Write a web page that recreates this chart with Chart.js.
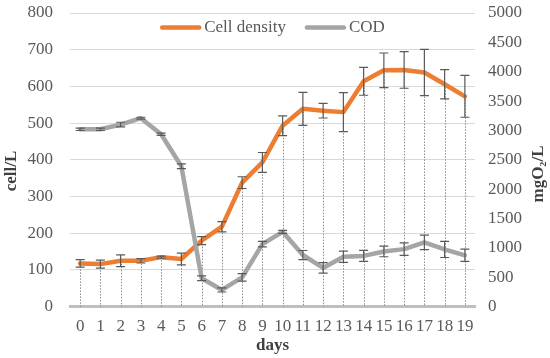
<!DOCTYPE html>
<html><head><meta charset="utf-8">
<script src="https://cdn.jsdelivr.net/npm/chart.js@4/dist/chart.umd.min.js"></script>
<style>html,body{margin:0;padding:0;background:#fff}#wrap{width:550px;height:358px;position:relative}</style>
</head><body><div id="wrap"><canvas id="c"></canvas></div>
<script>
const days = ['0','1','2','3','4','5','6','7','8','9','10','11','12','13','14','15','16','17','18','19'];
const cellDensity = [118,116,125,125,135,130,180,218,338,393,493,539,534,530,614,644,645,638,606,573];
const cellErr = [10,11,16,6,3,16,11,14,16,27,27,45,20,53,38,47,50,63,40,57];
const cod = [3020,3020,3100,3210,2935,2390,485,285,500,1065,1275,880,660,850,865,940,980,1095,975,875];
const codErr = [20,20,40,15,20,40,40,35,63,48,25,77,90,95,95,90,105,125,137,105];
const leftAxis = {min:0, max:800, step:100, title:'cell/L'};
const rightAxis = {min:0, max:5000, step:500, title:'mgO\u2082/L'};
const xTitle = 'days';
const ORANGE = '#ED7D31', GRAY = '#A5A5A5';
const FONT = 'Liberation Serif';

const extras = {
  id: 'extras',
  beforeDatasetsDraw(chart) {
    const ctx = chart.ctx, area = chart.chartArea;
    const meta = chart.getDatasetMeta(0);
    ctx.save();
    ctx.strokeStyle = '#8c8c8c';
    ctx.lineWidth = 1;
    ctx.setLineDash([1.5, 1.5]);
    meta.data.forEach(p => {
      const x = Math.round(p.x) + 0.5;
      ctx.beginPath(); ctx.moveTo(x, p.y); ctx.lineTo(x, area.bottom); ctx.stroke();
    });
    ctx.restore();
  },
  afterDatasetsDraw(chart) {
    const ctx = chart.ctx;
    ctx.save();
    ctx.strokeStyle = '#595959';
    ctx.lineWidth = 1.2;
    chart.data.datasets.forEach((ds, i) => {
      const meta = chart.getDatasetMeta(i);
      const sc = chart.scales[ds.yAxisID];
      meta.data.forEach((p, j) => {
        const v = ds.data[j], e = ds.errors[j];
        const y1 = sc.getPixelForValue(v + e), y2 = sc.getPixelForValue(v - e);
        const x = p.x;
        ctx.beginPath();
        ctx.moveTo(x, y1); ctx.lineTo(x, y2);
        ctx.moveTo(x - 4.5, y1); ctx.lineTo(x + 4.5, y1);
        ctx.moveTo(x - 4.5, y2); ctx.lineTo(x + 4.5, y2);
        ctx.stroke();
      });
    });
    ctx.restore();
  },
  afterDraw(chart) {
    const ctx = chart.ctx, area = chart.chartArea;
    ctx.save();
    // legend
    ctx.font = '17px "' + FONT + '"';
    ctx.textBaseline = 'middle';
    ctx.fillStyle = '#595959';
    const items = chart.data.datasets.map(d => ({label: d.label, color: d.borderColor}));
    const lineW = 41, gap = 3, sep = 19;
    let total = 0;
    items.forEach((it, k) => { it.w = ctx.measureText(it.label).width; total += lineW + gap + it.w + (k ? sep : 0); });
    let x = (area.left + area.right) / 2 - total / 2;
    const ly = area.top + 14.5;
    items.forEach((it, k) => {
      if (k) x += sep;
      ctx.strokeStyle = it.color; ctx.lineWidth = 4.5; ctx.lineCap = 'round';
      ctx.beginPath(); ctx.moveTo(x + 2, ly); ctx.lineTo(x + lineW - 2, ly); ctx.stroke();
      x += lineW + gap;
      ctx.textAlign = 'left';
      ctx.fillText(it.label, x, ly);
      x += it.w;
    });
    // axis titles
    ctx.fillStyle = '#404040';
    ctx.font = 'bold 17px "' + FONT + '"';
    ctx.textAlign = 'center';
    ctx.textBaseline = 'middle';
    ctx.fillText(xTitle, (area.left + area.right) / 2, 346);
    ctx.save(); ctx.translate(12, 171); ctx.rotate(-Math.PI / 2); ctx.fillText(leftAxis.title, 0, 0); ctx.restore();
    ctx.save(); ctx.translate(539, 174); ctx.rotate(-Math.PI / 2); ctx.fillText(rightAxis.title, 0, 0); ctx.restore();
    ctx.restore();
  }
};

const tickFont = {family: FONT, size: 17};
const plain = v => String(v);
new Chart(document.getElementById('c'), {
  type: 'line',
  data: {
    labels: days,
    datasets: [
      {label: 'Cell density', data: cellDensity, errors: cellErr, yAxisID: 'y', borderColor: ORANGE, backgroundColor: ORANGE,
       borderWidth: 4.5, pointRadius: 0, tension: 0, borderJoinStyle: 'round', borderCapStyle: 'round', order: 1},
      {label: 'COD', data: cod, errors: codErr, yAxisID: 'y2', borderColor: GRAY, backgroundColor: GRAY,
       borderWidth: 4.5, pointRadius: 0, tension: 0, borderJoinStyle: 'round', borderCapStyle: 'round', order: 0}
    ]
  },
  options: {
    responsive: true, maintainAspectRatio: false, animation: false, devicePixelRatio: 1,
    layout: {padding: {top: 13, left: 0, right: 0, bottom: 0}},
    plugins: {legend: {display: false}, tooltip: {enabled: false}},
    scales: {
      x: {type: 'category', offset: true,
          grid: {display: false, drawTicks: false},
          border: {display: true, color: '#bfbfbf', width: 3},
          ticks: {font: tickFont, color: '#595959', padding: 10, maxRotation: 0, autoSkip: false},
          afterFit: s => { s.height = 51.3; s.paddingLeft = 0; s.paddingRight = 0; }},
      y: {position: 'left', min: leftAxis.min, max: leftAxis.max,
          ticks: {stepSize: leftAxis.step, font: tickFont, color: '#595959', padding: 17, callback: plain},
          grid: {color: '#d9d9d9', lineWidth: 1, drawTicks: false},
          border: {display: false},
          afterFit: s => { s.width = 70; s.paddingTop = 0; s.paddingBottom = 0; }},
      y2: {position: 'right', min: rightAxis.min, max: rightAxis.max,
          ticks: {stepSize: rightAxis.step, font: tickFont, color: '#595959', padding: 13, callback: plain},
          grid: {display: false, drawTicks: false},
          border: {display: false},
          afterFit: s => { s.width = 75; s.paddingTop = 0; s.paddingBottom = 0; }}
    }
  },
  plugins: [extras]
});
</script></body></html>
